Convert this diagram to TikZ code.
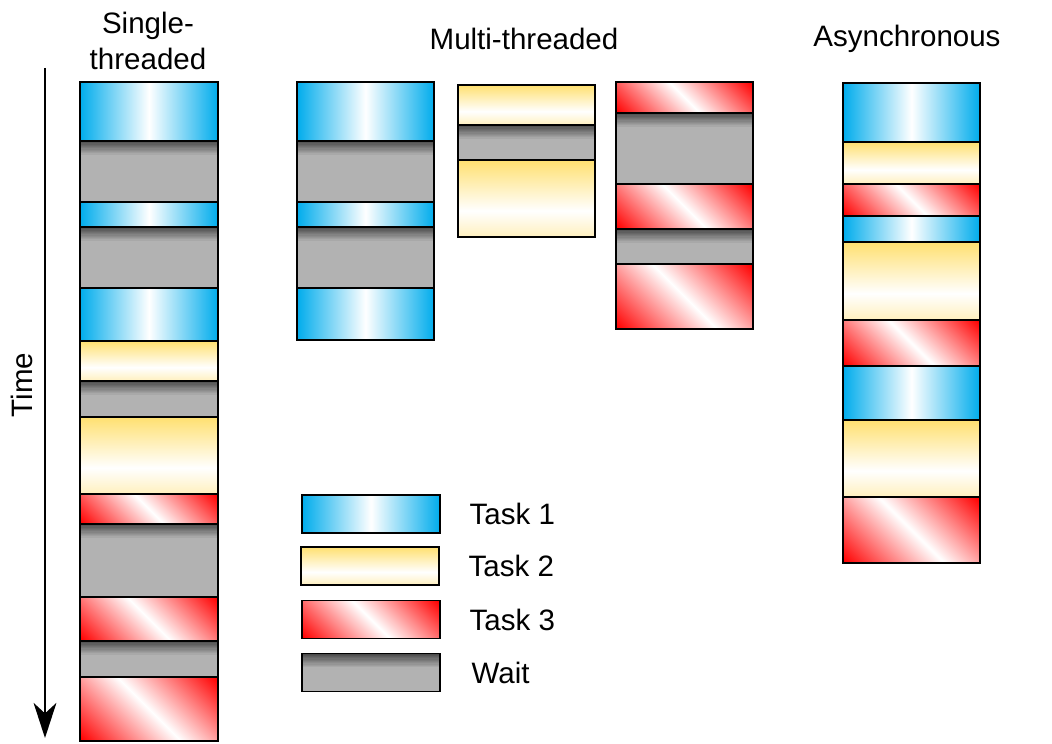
\documentclass[tikz,border=0pt]{standalone}
\usepackage{fontspec}
\setmainfont{Liberation Sans}
\usetikzlibrary{arrows.meta,positioning}
\definecolor{taskblue}{RGB}{0,172,236}
\definecolor{taskyellow}{RGB}{255,224,112}
\definecolor{paleyellow}{RGB}{255,240,190}
\definecolor{taskred}{RGB}{255,0,0}
\definecolor{waitgray}{RGB}{178,178,178}
\definecolor{waitdark}{RGB}{75,75,75}
\pgfdeclarehorizontalshading{redstripe}{100bp}{color(0bp)=(taskred); color(15bp)=(taskred); color(50bp)=(white); color(85bp)=(taskred); color(100bp)=(taskred)}
\pgfdeclareverticalshading{yellowband}{100bp}{color(0bp)=(paleyellow); color(25bp)=(paleyellow); color(42bp)=(white); color(75bp)=(taskyellow); color(100bp)=(taskyellow)}

\begin{document}
\begin{tikzpicture}[
    x=0.02cm, y=0.02cm,
    font=\fontsize{16.8}{20.5}\selectfont,
    task1/.style={draw, line width=1.1pt, left color=taskblue, right color=taskblue, middle color=white},
    task2/.style={draw, line width=1.1pt, shading=yellowband},
    task3/.style={draw, line width=1.1pt, shading=redstripe, shading angle=45},
    wait/.style={draw, line width=1.1pt, fill=waitgray,
        path picture={\foreach \i [evaluate=\i as \p using 100-9*\i] in {0,...,10}
            \fill[waitdark!\p!waitgray] ([yshift={-0.7*\i*1pt}]path picture bounding box.north west)
                rectangle ([yshift={-0.7*(\i+1)*1pt}]path picture bounding box.north east);}},
    key/.style={minimum width=2.76cm, minimum height=0.76cm},
    arrow/.style={-{Stealth[length=20pt, width=13pt, inset=6pt]}, line width=0.9pt}
]
    \useasboundingbox (0,0) rectangle (1052,744);

    % Titles
    \node[align=center] (single) at (148,744-41) {Single-\\threaded};
    \node (multi) at (524,744-39) {Multi-threaded};
    \node (async) at (907,744-39) {Asynchronous};

    % Time axis
    \coordinate (tstart) at (45,744-68);
    \coordinate (tend) at (45,744-738);
    \draw[arrow] (tstart) -- (tend);
    \node[rotate=90] (time) at (22,744-385) {Time};

    % Single-threaded
    \foreach \k/\a/\b in {task1/82/141, wait/141/202, task1/202/227, wait/227/288,
        task1/288/341, task2/341/381, wait/381/417, task2/417/494, task3/494/524,
        wait/524/597, task3/597/641, wait/641/677, task3/677/741}
        \path[\k] (80,744-\a) rectangle (218,744-\b);

    % Multi-threaded
    \foreach \k/\a/\b in {task1/82/141, wait/141/202, task1/202/227, wait/227/288, task1/288/340}
        \path[\k] (297,744-\a) rectangle (434,744-\b);
    \foreach \k/\a/\b in {task2/85/125, wait/125/160, task2/160/237}
        \path[\k] (458,744-\a) rectangle (595,744-\b);
    \foreach \k/\a/\b in {task3/82/113, wait/113/184, task3/184/229, wait/229/264, task3/264/329}
        \path[\k] (616,744-\a) rectangle (753,744-\b);

    % Asynchronous
    \foreach \k/\a/\b in {task1/83/142, task2/142/184, task3/184/216, task1/216/242,
        task2/242/320, task3/320/366, task1/366/420, task2/420/497, task3/497/563}
        \path[\k] (843,744-\a) rectangle (980,744-\b);

    % Legend
    \node[task1, key] (key1) at (371,744-514) {};
    \node[task2, key] (key2) at (370,744-566) {};
    \node[task3, key] (key3) at (371,744-619.5) {};
    \node[wait, key] (key4) at (371,744-672.5) {};
    \node[right=0.45cm of key1] (lab1) {Task 1};
    \node[right=0.45cm of key2] (lab2) {Task 2};
    \node[right=0.45cm of key3] (lab3) {Task 3};
    \node[right=0.49cm of key4] (lab4) {Wait};
\end{tikzpicture}
\end{document}
